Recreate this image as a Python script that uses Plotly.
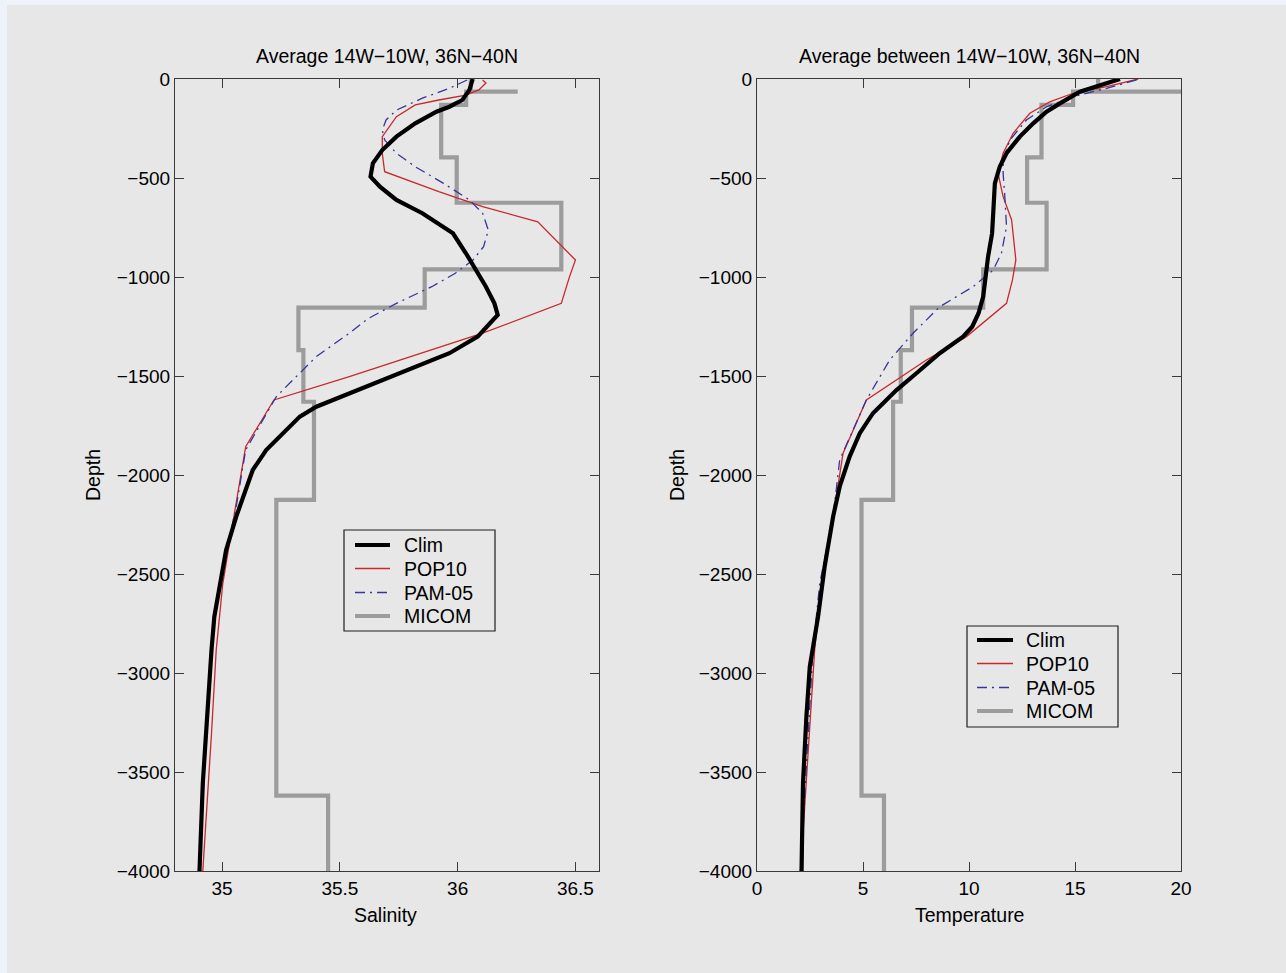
import plotly.graph_objects as go

# ---------------- data ----------------
# Salinity profiles (depth in m, negative downward)
clim_s_depth = [0, -55, -106, -140, -165, -224, -291, -359, -426, -493, -544, -611, -678, -779,
                -880, -965, -1049, -1133, -1192, -1217, -1301, -1385, -1453, -1520, -1587, -1655,
                -1705, -1789, -1874, -1975, -2076, -2210, -2379, -2547, -2715, -2884, -3052,
                -3304, -3557, -4000]
clim_s = [36.064, 36.05, 36.02, 35.965, 35.91, 35.82, 35.74, 35.68, 35.64, 35.63, 35.67, 35.74,
          35.85, 35.98, 36.035, 36.08, 36.12, 36.156, 36.17, 36.15, 36.085, 35.965, 35.82, 35.68,
          35.54, 35.40, 35.33, 35.257, 35.187, 35.13, 35.10, 35.06, 35.017, 34.99, 34.967,
          34.955, 34.945, 34.932, 34.918, 34.904]

pop_s_depth = [-5, -20, -55, -81, -106, -131, -190, -291, -375, -468, -569, -645, -721, -830,
               -914, -998, -1133, -1284, -1394, -1503, -1621, -1857, -2210, -2547, -2884, -3304,
               -4000]
pop_s = [36.106, 36.12, 36.09, 36.035, 35.92, 35.82, 35.74, 35.68, 35.68, 35.69, 35.92, 36.106,
         36.34, 36.43, 36.50, 36.475, 36.44, 36.106, 35.82, 35.54, 35.22, 35.10, 35.05, 35.003,
         34.975, 34.955, 34.918]

pam_s_depth = [-5, -47, -97, -157, -207, -258, -308, -375, -443, -527, -611, -678, -763, -847,
               -914, -981, -1049, -1133, -1210, -1284, -1402, -1486, -1604, -1874, -2160, -2463,
               -2800, -2968, -4000]
pam_s = [36.04, 35.965, 35.85, 35.74, 35.696, 35.68, 35.69, 35.74, 35.82, 35.94, 36.05, 36.106,
         36.13, 36.11, 36.065, 35.99, 35.89, 35.74, 35.62, 35.54, 35.40, 35.33, 35.23, 35.10,
         35.06, 35.003, 34.96, 34.946, 34.904]

# MICOM layered profile (step path through layer values and interfaces)
micom_s_depth = [0, -64, -64, -64, -131, -131, -396, -396, -625, -625, -961, -961, -1155,
                 -1155, -1369, -1369, -1630, -1630, -2126, -2126, -3619, -3619, -4000]
micom_s = [36.056, 36.056, 36.255, 36.036, 36.036, 35.93, 35.93, 35.996, 35.996, 36.44, 36.44,
           35.86, 35.86, 35.324, 35.324, 35.345, 35.345, 35.39, 35.39, 35.23, 35.23, 35.45, 35.45]

# Temperature profiles
clim_t_depth = [0, -30, -64, -123, -165, -224, -291, -375, -443, -527, -645, -779, -897, -981,
                -1099, -1183, -1251, -1301, -1385, -1486, -1571, -1688, -1789, -1907, -2059,
                -2210, -2463, -2715, -2968, -3220, -3557, -4000]
clim_t = [17.12, 16.17, 15.23, 14.29, 13.66, 13.03, 12.40, 11.77, 11.45, 11.22, 11.14, 11.09,
          10.90, 10.79, 10.67, 10.45, 10.15, 9.72, 8.62, 7.52, 6.58, 5.47, 4.85, 4.37, 3.90,
          3.59, 3.19, 2.88, 2.49, 2.33, 2.17, 2.10]

pop_t_depth = [0, -39, -72, -115, -173, -274, -375, -476, -594, -712, -914, -1015, -1133,
               -1301, -1419, -1621, -1890, -2210, -2547, -2884, -3809, -4000]
pop_t = [17.98, 16.49, 14.91, 13.81, 12.87, 12.08, 11.61, 11.37, 11.61, 12.01, 12.21, 12.05,
         11.77, 9.88, 7.99, 5.16, 4.06, 3.59, 3.04, 2.72, 2.17, 2.15]

pam_t_depth = [-5, -47, -89, -140, -207, -308, -409, -476, -594, -746, -880, -965, -1049,
               -1150, -1284, -1419, -1621, -1924, -2210, -2547, -2884, -4000]
pam_t = [17.9, 16.49, 14.91, 13.66, 12.71, 11.93, 11.61, 11.61, 11.69, 11.77, 11.53, 11.14,
         10.19, 8.62, 7.36, 6.26, 5.16, 3.90, 3.59, 2.96, 2.64, 2.05]

micom_t_depth = [0, -64, -64, -64, -131, -131, -396, -396, -625, -625, -961, -961, -1155,
                 -1155, -1369, -1369, -1630, -1630, -2126, -2126, -3619, -3619, -4000]
micom_t = [16.09, 16.09, 22.0, 14.91, 14.91, 13.42, 13.42, 12.74, 12.74, 13.66, 13.66, 10.67,
           10.67, 7.31, 7.31, 6.78, 6.78, 6.42, 6.42, 4.93, 4.93, 5.99, 5.99]

series_names = ["Clim", "POP10", "PAM-05", "MICOM"]

sal_ticks = [35, 35.5, 36, 36.5]
sal_ticktext = ["35", "35.5", "36", "36.5"]
temp_ticks = [0, 5, 10, 15, 20]
temp_ticktext = ["0", "5", "10", "15", "20"]
depth_ticks = [0, -500, -1000, -1500, -2000, -2500, -3000, -3500, -4000]
depth_ticktext = ["0", "\u2212500", "\u22121000", "\u22121500", "\u22122000", "\u22122500",
                  "\u22123000", "\u22123500", "\u22124000"]

# ---------------- styles ----------------
W, H = 1286, 973
BG = "#e7e7e7"
FONT = "Liberation Sans, Arial, Helvetica, sans-serif"
AXC = "#3a3a3a"
styles = {
    "Clim": dict(color="#000000", width=4.2, dash="solid"),
    "POP10": dict(color="#c8282a", width=1.3, dash="solid"),
    "PAM-05": dict(color="#35359a", width=1.3, dash="10px,5px,2px,5px"),
    "MICOM": dict(color="#9c9c9c", width=4.2, dash="solid"),
}


def px_x(p):
    return p / W


def px_y(p):
    return 1 - p / H


fig = go.Figure()

panels = [
    ("x", "y", [(clim_s, clim_s_depth), (pop_s, pop_s_depth), (pam_s, pam_s_depth),
                (micom_s, micom_s_depth)]),
    ("x2", "y2", [(clim_t, clim_t_depth), (pop_t, pop_t_depth), (pam_t, pam_t_depth),
                  (micom_t, micom_t_depth)]),
]
# draw order: MICOM steps, thin model lines, then the climatology on top
order = [3, 1, 2, 0]
for xa, ya, profiles in panels:
    for i in order:
        xs, ds = profiles[i]
        name = series_names[i]
        fig.add_trace(go.Scatter(
            x=xs, y=ds, mode="lines", name=name, xaxis=xa, yaxis=ya,
            line=dict(color=styles[name]["color"], width=styles[name]["width"],
                      dash=styles[name]["dash"]),
            showlegend=False, hoverinfo="x+y+name"))

axis_common = dict(
    showline=True, linecolor=AXC, linewidth=1.2, mirror="ticks",
    ticks="inside", ticklen=9, tickwidth=1.2, tickcolor=AXC,
    showgrid=False, zeroline=False, tickfont=dict(family=FONT, size=19, color="#000"),
)

left_dom = [px_x(175), px_x(599)]
right_dom = [px_x(757), px_x(1181)]
ydom = [px_y(871), px_y(79)]

fig.update_layout(
    autosize=True, margin=dict(l=0, r=0, t=0, b=0, autoexpand=False),
    paper_bgcolor=BG, plot_bgcolor=BG,
    font=dict(family=FONT, size=19, color="#000"),
    xaxis=dict(domain=left_dom, range=[34.8, 36.6], tickvals=sal_ticks, ticktext=sal_ticktext,
               anchor="y", **axis_common),
    yaxis=dict(domain=ydom, range=[-4000, 0], tickvals=depth_ticks, ticktext=depth_ticktext,
               anchor="x", **axis_common),
    xaxis2=dict(domain=right_dom, range=[0, 20], tickvals=temp_ticks, ticktext=temp_ticktext,
                anchor="y2", **axis_common),
    yaxis2=dict(domain=ydom, range=[-4000, 0], tickvals=depth_ticks, ticktext=depth_ticktext,
                anchor="x2", **axis_common),
    showlegend=False,
)

annotations = []
shapes = []

# light frame strips along the top and left edges
shapes.append(dict(type="rect", xref="paper", yref="paper", x0=0, x1=1, y0=px_y(5), y1=1,
                   fillcolor="#f1f3fa", line=dict(width=0), layer="below"))
shapes.append(dict(type="rect", xref="paper", yref="paper", x0=0, x1=px_x(7), y0=0, y1=1,
                   fillcolor="#eef2fa", line=dict(width=0), layer="below"))

# panel titles and axis labels
titles = [("Average 14W\u221210W, 36N\u221240N", 387),
          ("Average between 14W\u221210W, 36N\u221240N", 969)]
for txt, cx in titles:
    annotations.append(dict(text=txt, x=px_x(cx), y=px_y(56), xref="paper", yref="paper",
                            showarrow=False, xanchor="center", yanchor="middle",
                            font=dict(family=FONT, size=19.5, color="#000")))
for txt, cx in [("Salinity", 385), ("Temperature", 969)]:
    annotations.append(dict(text=txt, x=px_x(cx), y=px_y(915), xref="paper", yref="paper",
                            showarrow=False, xanchor="center", yanchor="middle",
                            font=dict(family=FONT, size=19.5, color="#000")))
for cx in [93, 677]:
    annotations.append(dict(text="Depth", x=px_x(cx), y=px_y(475), xref="paper", yref="paper",
                            showarrow=False, xanchor="center", yanchor="middle", textangle=-90,
                            font=dict(family=FONT, size=19.5, color="#000")))

# legends: box, line samples and labels
legends = [
    dict(box=(344, 530, 495, 631), sx=(355, 390), tx=402, ys=[545, 568.5, 592.5, 616]),
    dict(box=(967, 626, 1118, 727), sx=(977, 1013), tx=1024, ys=[640, 663.5, 687.5, 711]),
]
for lg in legends:
    bx0, by0, bx1, by1 = lg["box"]
    shapes.append(dict(type="rect", xref="paper", yref="paper",
                       x0=px_x(bx0), x1=px_x(bx1), y0=px_y(by1), y1=px_y(by0),
                       fillcolor=BG, line=dict(color="#1e1e1e", width=1.2)))
    for name, yy in zip(series_names, lg["ys"]):
        st = styles[name]
        shapes.append(dict(type="line", xref="paper", yref="paper",
                           x0=px_x(lg["sx"][0]), x1=px_x(lg["sx"][1]), y0=px_y(yy), y1=px_y(yy),
                           line=dict(color=st["color"], width=st["width"],
                                     dash=st["dash"])))
        annotations.append(dict(text=name, x=px_x(lg["tx"]), y=px_y(yy), xref="paper",
                                yref="paper", showarrow=False, xanchor="left",
                                yanchor="middle",
                                font=dict(family=FONT, size=19.5, color="#000")))

fig.update_layout(annotations=annotations, shapes=shapes)

# the figure fills the browser window; drop the default page margin and refit
page_fix = (
    "document.documentElement.style.margin='0';"
    "document.body.style.margin='0';document.body.style.padding='0';"
    "document.body.style.overflow='hidden';"
    "document.documentElement.style.overflow='hidden';"
    "var gd=document.getElementById('{plot_id}');"
    "gd.style.position='fixed';gd.style.left='0';gd.style.top='0';"
    "gd.style.width='100vw';gd.style.height='100vh';"
    "Plotly.Plots.resize(gd);"
)
fig.write_html("out.html", post_script=page_fix, default_width="100vw",
               default_height="100vh", config={"responsive": True})
